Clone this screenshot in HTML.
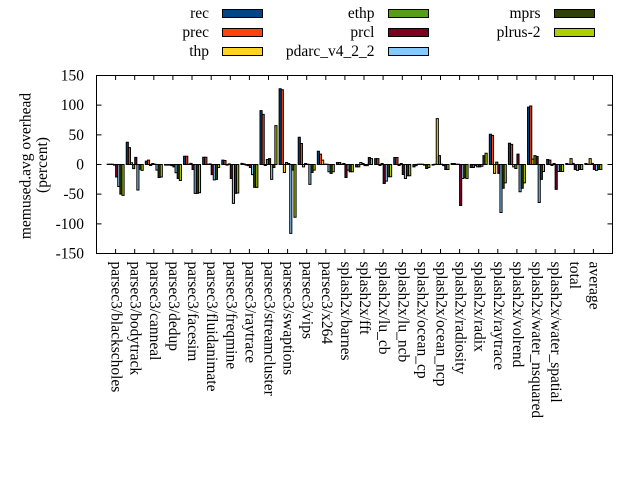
<!DOCTYPE html>
<html><head><meta charset="utf-8">
<style>
html,body{margin:0;padding:0;background:#fff;}
svg{display:block;}
text{font-family:"Liberation Serif","Times New Roman",serif;font-size:15.5px;fill:#000;}
.bars rect{stroke:#000;stroke-width:1px;vector-effect:non-scaling-stroke;}
.bars rect:nth-child(1){fill:#004586}
.bars rect:nth-child(2){fill:#ff420e}
.bars rect:nth-child(3){fill:#ffd320}
.bars rect:nth-child(4){fill:#579d1c}
.bars rect:nth-child(5){fill:#7e0021}
.bars rect:nth-child(6){fill:#83caff}
.bars rect:nth-child(7){fill:#314004}
.bars rect:nth-child(8){fill:#aecf00}
</style></head>
<body>
<svg width="640" height="480" viewBox="0 0 640 480" xmlns="http://www.w3.org/2000/svg">
<rect x="0" y="0" width="640" height="480" fill="#fff"/>

<!-- legend -->
<g>
<text x="209" y="18" text-anchor="end">rec</text>
<rect x="222.5" y="9.5" width="40" height="8" fill="#004586" stroke="#000"/>
<text x="209" y="37" text-anchor="end">prec</text>
<rect x="222.5" y="28.5" width="40" height="8" fill="#ff420e" stroke="#000"/>
<text x="209" y="56" text-anchor="end">thp</text>
<rect x="222.5" y="47.5" width="40" height="8" fill="#ffd320" stroke="#000"/>

<text x="374.5" y="18" text-anchor="end">ethp</text>
<rect x="388.5" y="9.5" width="40" height="8" fill="#579d1c" stroke="#000"/>
<text x="374.5" y="37" text-anchor="end">prcl</text>
<rect x="388.5" y="28.5" width="40" height="8" fill="#7e0021" stroke="#000"/>
<text x="374.5" y="56" text-anchor="end">pdarc_v4_2_2</text>
<rect x="388.5" y="47.5" width="40" height="8" fill="#83caff" stroke="#000"/>

<text x="540.5" y="18" text-anchor="end">mprs</text>
<rect x="554.5" y="9.5" width="40" height="8" fill="#314004" stroke="#000"/>
<text x="540.5" y="37" text-anchor="end">plrus-2</text>
<rect x="554.5" y="28.5" width="40" height="8" fill="#aecf00" stroke="#000"/>
</g>

<!-- y tick labels -->
<g text-anchor="end">
<text x="84" y="80.5">150</text>
<text x="84" y="110.2">100</text>
<text x="84" y="139.8">50</text>
<text x="84" y="169.5">0</text>
<text x="84" y="199.2">-50</text>
<text x="84" y="228.8">-100</text>
<text x="84" y="258.5">-150</text>
</g>

<!-- y axis label -->
<text transform="translate(30.5,166) rotate(-90)" text-anchor="middle">memused.avg overhead</text>
<text transform="translate(47,165) rotate(-90)" text-anchor="middle">(percent)</text>

<!-- bars -->
<g class="bars" transform="translate(0,164.5) scale(1,-0.59333)">
<g transform="translate(115.61,0)">
<rect x="-8.49" width="2.12" y="0" height="0.5"/><rect x="-6.37" width="2.12" y="0" height="0.5"/><rect x="-4.25" width="2.12" y="0" height="0.5"/><rect x="-2.12" width="2.12" y="-1" height="1"/><rect x="0" width="2.12" y="-21" height="21"/><rect x="2.12" width="2.12" y="-37" height="37"/><rect x="4.25" width="2.12" y="-50" height="50"/><rect x="6.37" width="2.12" y="-52" height="52"/>
</g>
<g transform="translate(134.72,0)">
<rect x="-8.49" width="2.12" y="0" height="37.5"/><rect x="-6.37" width="2.12" y="0" height="28.5"/><rect x="-4.25" width="2.12" y="0" height="3"/><rect x="-2.12" width="2.12" y="-7" height="7"/><rect x="0" width="2.12" y="0" height="12"/><rect x="2.12" width="2.12" y="-43" height="43"/><rect x="4.25" width="2.12" y="-8" height="8"/><rect x="6.37" width="2.12" y="-10" height="10"/>
</g>
<g transform="translate(153.83,0)">
<rect x="-8.49" width="2.12" y="0" height="5.6"/><rect x="-6.37" width="2.12" y="0" height="7.3"/><rect x="-4.25" width="2.12" y="-1.7" height="1.7"/><rect x="-2.12" width="2.12" y="0" height="1.7"/><rect x="0" width="2.12" y="0" height="0.5"/><rect x="2.12" width="2.12" y="-9.5" height="9.5"/><rect x="4.25" width="2.12" y="-22" height="22"/><rect x="6.37" width="2.12" y="-21" height="21"/>
</g>
<g transform="translate(172.94,0)">
<rect x="-8.49" width="2.12" y="-1" height="1"/><rect x="-6.37" width="2.12" y="-1" height="1"/><rect x="-4.25" width="2.12" y="-1" height="1"/><rect x="-2.12" width="2.12" y="-2" height="2"/><rect x="0" width="2.12" y="-4" height="4"/><rect x="2.12" width="2.12" y="-14" height="14"/><rect x="4.25" width="2.12" y="-23.5" height="23.5"/><rect x="6.37" width="2.12" y="-27" height="27"/>
</g>
<g transform="translate(192.05,0)">
<rect x="-8.49" width="2.12" y="0" height="14"/><rect x="-6.37" width="2.12" y="0" height="14"/><rect x="-4.25" width="2.12" y="0" height="0.5"/><rect x="-2.12" width="2.12" y="0" height="2"/><rect x="0" width="2.12" y="-8.4" height="8.4"/><rect x="2.12" width="2.12" y="-48.7" height="48.7"/><rect x="4.25" width="2.12" y="-48.7" height="48.7"/><rect x="6.37" width="2.12" y="-47.6" height="47.6"/>
</g>
<g transform="translate(211.16,0)">
<rect x="-8.49" width="2.12" y="0" height="12.3"/><rect x="-6.37" width="2.12" y="0" height="12.3"/><rect x="-4.25" width="2.12" y="0" height="0.5"/><rect x="-2.12" width="2.12" y="0" height="1"/><rect x="0" width="2.12" y="-17" height="17"/><rect x="2.12" width="2.12" y="-26" height="26"/><rect x="4.25" width="2.12" y="-25" height="25"/><rect x="6.37" width="2.12" y="-5" height="5"/>
</g>
<g transform="translate(230.27,0)">
<rect x="-8.49" width="2.12" y="0" height="7.3"/><rect x="-6.37" width="2.12" y="0" height="6.7"/><rect x="-4.25" width="2.12" y="-1" height="1"/><rect x="-2.12" width="2.12" y="0" height="1"/><rect x="0" width="2.12" y="-23.5" height="23.5"/><rect x="2.12" width="2.12" y="-65.5" height="65.5"/><rect x="4.25" width="2.12" y="-48.7" height="48.7"/><rect x="6.37" width="2.12" y="-48" height="48"/>
</g>
<g transform="translate(249.38,0)">
<rect x="-8.49" width="2.12" y="0" height="2"/><rect x="-6.37" width="2.12" y="0" height="1"/><rect x="-4.25" width="2.12" y="-1" height="1"/><rect x="-2.12" width="2.12" y="-2" height="2"/><rect x="0" width="2.12" y="-5" height="5"/><rect x="2.12" width="2.12" y="-17" height="17"/><rect x="4.25" width="2.12" y="-38.6" height="38.6"/><rect x="6.37" width="2.12" y="-38.6" height="38.6"/>
</g>
<g transform="translate(268.49,0)">
<rect x="-8.49" width="2.12" y="0" height="90.7"/><rect x="-6.37" width="2.12" y="0" height="84.5"/><rect x="-4.25" width="2.12" y="-1.7" height="1.7"/><rect x="-2.12" width="2.12" y="0" height="8.4"/><rect x="0" width="2.12" y="0" height="10"/><rect x="2.12" width="2.12" y="-25" height="25"/><rect x="4.25" width="2.12" y="-5" height="5"/><rect x="6.37" width="2.12" y="0" height="65.5"/>
</g>
<g transform="translate(287.60,0)">
<rect x="-8.49" width="2.12" y="0" height="127.7"/><rect x="-6.37" width="2.12" y="0" height="126"/><rect x="-4.25" width="2.12" y="-13.4" height="13.4"/><rect x="-2.12" width="2.12" y="0" height="3.4"/><rect x="0" width="2.12" y="0" height="1.7"/><rect x="2.12" width="2.12" y="-116" height="116"/><rect x="4.25" width="2.12" y="-9.5" height="9.5"/><rect x="6.37" width="2.12" y="-89" height="89"/>
</g>
<g transform="translate(306.71,0)">
<rect x="-8.49" width="2.12" y="0" height="45.9"/><rect x="-6.37" width="2.12" y="0" height="35.3"/><rect x="-4.25" width="2.12" y="-4" height="4"/><rect x="-2.12" width="2.12" y="0" height="1.7"/><rect x="0" width="2.12" y="0" height="0.5"/><rect x="2.12" width="2.12" y="-33.6" height="33.6"/><rect x="4.25" width="2.12" y="-13.4" height="13.4"/><rect x="6.37" width="2.12" y="-9.5" height="9.5"/>
</g>
<g transform="translate(325.82,0)">
<rect x="-8.49" width="2.12" y="0" height="22.4"/><rect x="-6.37" width="2.12" y="0" height="17.4"/><rect x="-4.25" width="2.12" y="0" height="7.3"/><rect x="-2.12" width="2.12" y="0" height="0.5"/><rect x="0" width="2.12" y="0" height="0.5"/><rect x="2.12" width="2.12" y="-12.3" height="12.3"/><rect x="4.25" width="2.12" y="-15" height="15"/><rect x="6.37" width="2.12" y="-12.3" height="12.3"/>
</g>
<g transform="translate(344.93,0)">
<rect x="-8.49" width="2.12" y="0" height="3.4"/><rect x="-6.37" width="2.12" y="0" height="3.4"/><rect x="-4.25" width="2.12" y="0" height="0.5"/><rect x="-2.12" width="2.12" y="0" height="1.7"/><rect x="0" width="2.12" y="-22" height="22"/><rect x="2.12" width="2.12" y="-9.5" height="9.5"/><rect x="4.25" width="2.12" y="-12.3" height="12.3"/><rect x="6.37" width="2.12" y="-12.3" height="12.3"/>
</g>
<g transform="translate(364.04,0)">
<rect x="-8.49" width="2.12" y="-4" height="4"/><rect x="-6.37" width="2.12" y="-4" height="4"/><rect x="-4.25" width="2.12" y="0" height="3.4"/><rect x="-2.12" width="2.12" y="0" height="1.7"/><rect x="0" width="2.12" y="-2" height="2"/><rect x="2.12" width="2.12" y="-2" height="2"/><rect x="4.25" width="2.12" y="0" height="11.8"/><rect x="6.37" width="2.12" y="0" height="10"/>
</g>
<g transform="translate(383.15,0)">
<rect x="-8.49" width="2.12" y="0" height="10"/><rect x="-6.37" width="2.12" y="0" height="10"/><rect x="-4.25" width="2.12" y="-1.7" height="1.7"/><rect x="-2.12" width="2.12" y="0" height="1.7"/><rect x="0" width="2.12" y="-32" height="32"/><rect x="2.12" width="2.12" y="-28" height="28"/><rect x="4.25" width="2.12" y="-20.7" height="20.7"/><rect x="6.37" width="2.12" y="-20.7" height="20.7"/>
</g>
<g transform="translate(402.26,0)">
<rect x="-8.49" width="2.12" y="0" height="11.8"/><rect x="-6.37" width="2.12" y="0" height="11.8"/><rect x="-4.25" width="2.12" y="-1.7" height="1.7"/><rect x="-2.12" width="2.12" y="0" height="1.7"/><rect x="0" width="2.12" y="-16.8" height="16.8"/><rect x="2.12" width="2.12" y="-23.5" height="23.5"/><rect x="4.25" width="2.12" y="-19" height="19"/><rect x="6.37" width="2.12" y="-19" height="19"/>
</g>
<g transform="translate(421.37,0)">
<rect x="-8.49" width="2.12" y="-4" height="4"/><rect x="-6.37" width="2.12" y="-2" height="2"/><rect x="-4.25" width="2.12" y="0" height="0.5"/><rect x="-2.12" width="2.12" y="0" height="0.5"/><rect x="0" width="2.12" y="0" height="0.5"/><rect x="2.12" width="2.12" y="-1" height="1"/><rect x="4.25" width="2.12" y="-6.7" height="6.7"/><rect x="6.37" width="2.12" y="-5" height="5"/>
</g>
<g transform="translate(440.48,0)">
<rect x="-8.49" width="2.12" y="-1" height="1"/><rect x="-6.37" width="2.12" y="0" height="0.5"/><rect x="-4.25" width="2.12" y="0" height="77.4"/><rect x="-2.12" width="2.12" y="0" height="15"/><rect x="0" width="2.12" y="0" height="0.5"/><rect x="2.12" width="2.12" y="-2" height="2"/><rect x="4.25" width="2.12" y="-8.4" height="8.4"/><rect x="6.37" width="2.12" y="-8.4" height="8.4"/>
</g>
<g transform="translate(459.59,0)">
<rect x="-8.49" width="2.12" y="0" height="1.7"/><rect x="-6.37" width="2.12" y="0" height="1.7"/><rect x="-4.25" width="2.12" y="0" height="0.5"/><rect x="-2.12" width="2.12" y="0" height="0.5"/><rect x="0" width="2.12" y="-69" height="69"/><rect x="2.12" width="2.12" y="-23.5" height="23.5"/><rect x="4.25" width="2.12" y="-22.4" height="22.4"/><rect x="6.37" width="2.12" y="-23.5" height="23.5"/>
</g>
<g transform="translate(478.70,0)">
<rect x="-8.49" width="2.12" y="-5" height="5"/><rect x="-6.37" width="2.12" y="-5" height="5"/><rect x="-4.25" width="2.12" y="-2" height="2"/><rect x="-2.12" width="2.12" y="-4" height="4"/><rect x="0" width="2.12" y="-4" height="4"/><rect x="2.12" width="2.12" y="-3" height="3"/><rect x="4.25" width="2.12" y="0" height="15"/><rect x="6.37" width="2.12" y="0" height="19"/>
</g>
<g transform="translate(497.81,0)">
<rect x="-8.49" width="2.12" y="0" height="51"/><rect x="-6.37" width="2.12" y="0" height="49"/><rect x="-4.25" width="2.12" y="-15" height="15"/><rect x="-2.12" width="2.12" y="0" height="4"/><rect x="0" width="2.12" y="-15" height="15"/><rect x="2.12" width="2.12" y="-81" height="81"/><rect x="4.25" width="2.12" y="-40" height="40"/><rect x="6.37" width="2.12" y="-31" height="31"/>
</g>
<g transform="translate(516.92,0)">
<rect x="-8.49" width="2.12" y="0" height="35.8"/><rect x="-6.37" width="2.12" y="0" height="34"/><rect x="-4.25" width="2.12" y="-4" height="4"/><rect x="-2.12" width="2.12" y="-6.7" height="6.7"/><rect x="0" width="2.12" y="0" height="17.4"/><rect x="2.12" width="2.12" y="-46" height="46"/><rect x="4.25" width="2.12" y="-40" height="40"/><rect x="6.37" width="2.12" y="-31" height="31"/>
</g>
<g transform="translate(536.03,0)">
<rect x="-8.49" width="2.12" y="0" height="96.8"/><rect x="-6.37" width="2.12" y="0" height="98.5"/><rect x="-4.25" width="2.12" y="0" height="9"/><rect x="-2.12" width="2.12" y="0" height="15"/><rect x="0" width="2.12" y="0" height="13.4"/><rect x="2.12" width="2.12" y="-64" height="64"/><rect x="4.25" width="2.12" y="-25" height="25"/><rect x="6.37" width="2.12" y="-11.8" height="11.8"/>
</g>
<g transform="translate(555.14,0)">
<rect x="-8.49" width="2.12" y="0" height="8.4"/><rect x="-6.37" width="2.12" y="0" height="7.3"/><rect x="-4.25" width="2.12" y="-1.7" height="1.7"/><rect x="-2.12" width="2.12" y="0" height="1.7"/><rect x="0" width="2.12" y="-42" height="42"/><rect x="2.12" width="2.12" y="-11.8" height="11.8"/><rect x="4.25" width="2.12" y="-11.8" height="11.8"/><rect x="6.37" width="2.12" y="-11.8" height="11.8"/>
</g>
<g transform="translate(574.25,0)">
<rect x="-8.49" width="2.12" y="0" height="1.7"/><rect x="-6.37" width="2.12" y="0" height="0.5"/><rect x="-4.25" width="2.12" y="0" height="10"/><rect x="-2.12" width="2.12" y="0" height="2"/><rect x="0" width="2.12" y="-8.4" height="8.4"/><rect x="2.12" width="2.12" y="-10" height="10"/><rect x="4.25" width="2.12" y="-8.4" height="8.4"/><rect x="6.37" width="2.12" y="-8.4" height="8.4"/>
</g>
<g transform="translate(593.36,0)">
<rect x="-8.49" width="2.12" y="0" height="1.7"/><rect x="-6.37" width="2.12" y="0" height="0.5"/><rect x="-4.25" width="2.12" y="0" height="10"/><rect x="-2.12" width="2.12" y="0" height="2"/><rect x="0" width="2.12" y="-8.4" height="8.4"/><rect x="2.12" width="2.12" y="-10" height="10"/><rect x="4.25" width="2.12" y="-8.4" height="8.4"/><rect x="6.37" width="2.12" y="-8.4" height="8.4"/>
</g>
</g>

<!-- border and ticks -->
<g stroke="#000" stroke-width="1" fill="none">
<rect x="96.5" y="75.5" width="516" height="178"/>
<path d="M96.5 105.17h5M96.5 134.83h5M96.5 164.5h5M96.5 194.17h5M96.5 223.83h5
M612.5 105.17h-5M612.5 134.83h-5M612.5 164.5h-5M612.5 194.17h-5M612.5 223.83h-5"/>
<path d="M115.6 253.5v-4.5M134.7 253.5v-4.5M153.8 253.5v-4.5M172.9 253.5v-4.5M192 253.5v-4.5M211.2 253.5v-4.5M230.3 253.5v-4.5M249.4 253.5v-4.5M268.5 253.5v-4.5M287.6 253.5v-4.5M306.7 253.5v-4.5M325.8 253.5v-4.5M344.9 253.5v-4.5M364 253.5v-4.5M383.1 253.5v-4.5M402.3 253.5v-4.5M421.4 253.5v-4.5M440.5 253.5v-4.5M459.6 253.5v-4.5M478.7 253.5v-4.5M497.8 253.5v-4.5M516.9 253.5v-4.5M536 253.5v-4.5M555.1 253.5v-4.5M574.2 253.5v-4.5M593.4 253.5v-4.5
M115.6 75.5v4.5M134.7 75.5v4.5M153.8 75.5v4.5M172.9 75.5v4.5M192 75.5v4.5M211.2 75.5v4.5M230.3 75.5v4.5M249.4 75.5v4.5M268.5 75.5v4.5M287.6 75.5v4.5M306.7 75.5v4.5M325.8 75.5v4.5M344.9 75.5v4.5M364 75.5v4.5M383.1 75.5v4.5M402.3 75.5v4.5M421.4 75.5v4.5M440.5 75.5v4.5M459.6 75.5v4.5M478.7 75.5v4.5M497.8 75.5v4.5M516.9 75.5v4.5M536 75.5v4.5M555.1 75.5v4.5M574.2 75.5v4.5M593.4 75.5v4.5"/>
</g>

<!-- x labels -->
<g>
<text transform="translate(111.6,261.5) rotate(90)">parsec3/blackscholes</text>
<text transform="translate(130.7,261.5) rotate(90)">parsec3/bodytrack</text>
<text transform="translate(149.8,261.5) rotate(90)">parsec3/canneal</text>
<text transform="translate(168.9,261.5) rotate(90)">parsec3/dedup</text>
<text transform="translate(188,261.5) rotate(90)">parsec3/facesim</text>
<text transform="translate(207.2,261.5) rotate(90)">parsec3/fluidanimate</text>
<text transform="translate(226.3,261.5) rotate(90)">parsec3/freqmine</text>
<text transform="translate(245.4,261.5) rotate(90)">parsec3/raytrace</text>
<text transform="translate(264.5,261.5) rotate(90)">parsec3/streamcluster</text>
<text transform="translate(283.6,261.5) rotate(90)">parsec3/swaptions</text>
<text transform="translate(302.7,261.5) rotate(90)">parsec3/vips</text>
<text transform="translate(321.8,261.5) rotate(90)">parsec3/x264</text>
<text transform="translate(340.9,261.5) rotate(90)">splash2x/barnes</text>
<text transform="translate(360,261.5) rotate(90)">splash2x/fft</text>
<text transform="translate(379.1,261.5) rotate(90)">splash2x/lu_cb</text>
<text transform="translate(398.3,261.5) rotate(90)">splash2x/lu_ncb</text>
<text transform="translate(417.4,261.5) rotate(90)">splash2x/ocean_cp</text>
<text transform="translate(436.5,261.5) rotate(90)">splash2x/ocean_ncp</text>
<text transform="translate(455.6,261.5) rotate(90)">splash2x/radiosity</text>
<text transform="translate(474.7,261.5) rotate(90)">splash2x/radix</text>
<text transform="translate(493.8,261.5) rotate(90)">splash2x/raytrace</text>
<text transform="translate(512.9,261.5) rotate(90)">splash2x/volrend</text>
<text transform="translate(532,261.5) rotate(90)">splash2x/water_nsquared</text>
<text transform="translate(551.1,261.5) rotate(90)">splash2x/water_spatial</text>
<text transform="translate(570.2,261.5) rotate(90)">total</text>
<text transform="translate(589.4,261.5) rotate(90)">average</text>
</g>
</svg>
</body></html>
